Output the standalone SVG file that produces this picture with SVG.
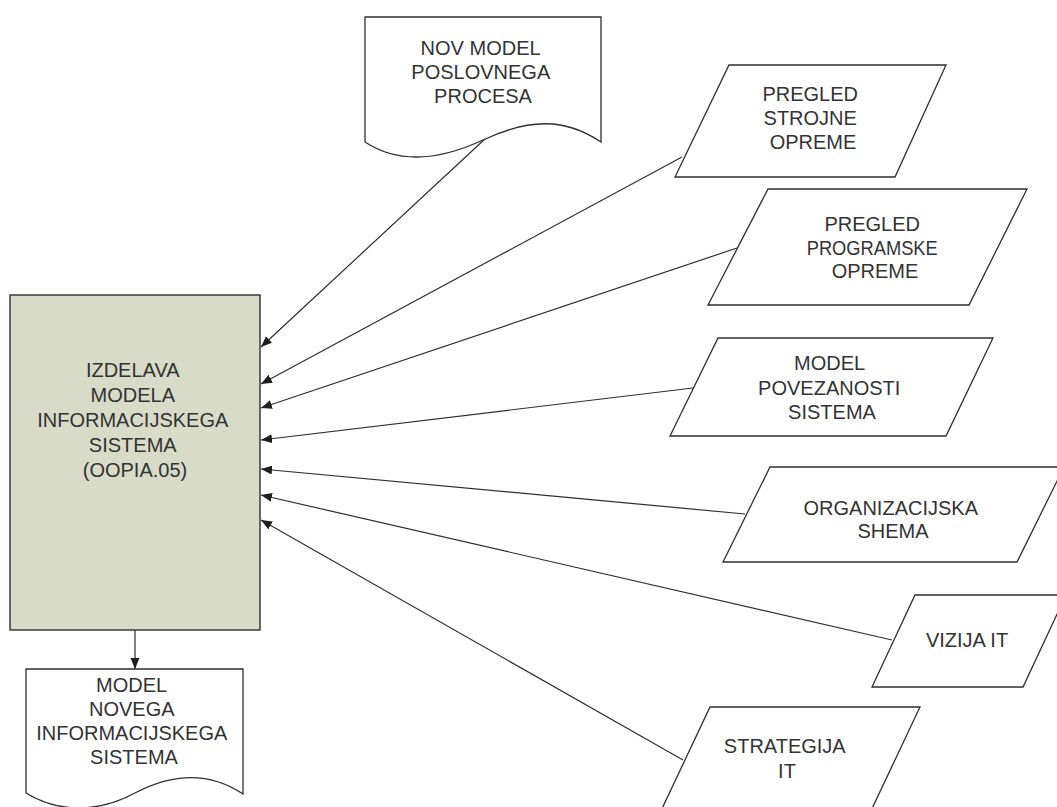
<svg xmlns="http://www.w3.org/2000/svg" width="1057" height="807" viewBox="0 0 1057 807">
  <style>
    .shape { fill: #ffffff; stroke: #2e2e2e; stroke-width: 1.3; }
    .process { fill: #d9dbc9; stroke: #3a3a3a; stroke-width: 1.5; }
    .label { font-family: "Liberation Sans", Arial, sans-serif; font-size: 20px; fill: #333333; text-anchor: middle; }
    .edge { fill: none; stroke: #2e2e2e; stroke-width: 1.2; marker-end: url(#arrow); }
  </style>
  <defs>
    <marker id="arrow" markerUnits="userSpaceOnUse" markerWidth="12" markerHeight="10" refX="11" refY="4.5" orient="auto">
      <path d="M0,0 L11,4.5 L0,9 Z" fill="#1e1e1e"/>
    </marker>
  </defs>

  <rect width="1057" height="807" fill="#ffffff"/>

  <!-- connectors -->
  <g id="connectors">
    <line class="edge" x1="486" y1="138" x2="261" y2="347"/>
    <line class="edge" x1="682" y1="157" x2="261" y2="384"/>
    <line class="edge" x1="737" y1="248" x2="261" y2="408"/>
    <line class="edge" x1="693" y1="388" x2="261" y2="440"/>
    <line class="edge" x1="745" y1="514" x2="261" y2="469"/>
    <line class="edge" x1="892" y1="640" x2="261" y2="495"/>
    <line class="edge" x1="683" y1="760" x2="261" y2="520"/>
    <line class="edge" x1="135" y1="630" x2="135" y2="669"/>
  </g>

  <!-- central process -->
  <g id="izdelava">
    <rect class="process" x="10" y="295" width="250" height="335"/>
    <text class="label">
      <tspan x="135" y="377">IZDELAVA</tspan>
      <tspan x="135" y="402">MODELA</tspan>
      <tspan x="135" y="427">INFORMACIJSKEGA</tspan>
      <tspan x="135" y="452">SISTEMA</tspan>
      <tspan x="135" y="477">(OOPIA.05)</tspan>
    </text>
  </g>

  <!-- document: new business process model -->
  <g id="nov-model">
    <path class="shape" d="M365,17 H601 V142 C565,118 530,118 483,140 C440,160 400,165 365,142 Z"/>
    <text class="label">
      <tspan x="483" y="55">NOV MODEL</tspan>
      <tspan x="483" y="79">POSLOVNEGA</tspan>
      <tspan x="483" y="103">PROCESA</tspan>
    </text>
  </g>

  <!-- data inputs -->
  <g id="strojna-oprema">
    <path class="shape" d="M729,65 H946 L895,177 H675 Z"/>
    <text class="label">
      <tspan x="813" y="101">PREGLED</tspan>
      <tspan x="813" y="125">STROJNE</tspan>
      <tspan x="813" y="149">OPREME</tspan>
    </text>
  </g>

  <g id="programska-oprema">
    <path class="shape" d="M768,189 H1027 L969,305 H708 Z"/>
    <text class="label">
      <tspan x="875" y="231">PREGLED</tspan>
      <tspan x="875" y="255" textLength="131" lengthAdjust="spacingAndGlyphs">PROGRAMSKE</tspan>
      <tspan x="875" y="278">OPREME</tspan>
    </text>
  </g>

  <g id="povezanost">
    <path class="shape" d="M718,338 H993 L946,436 H670 Z"/>
    <text class="label">
      <tspan x="832" y="370">MODEL</tspan>
      <tspan x="832" y="395">POVEZANOSTI</tspan>
      <tspan x="832" y="419">SISTEMA</tspan>
    </text>
  </g>

  <g id="organizacijska-shema">
    <path class="shape" d="M770,467 H1064 L1017,562 H723 Z"/>
    <text class="label">
      <tspan x="893" y="515">ORGANIZACIJSKA</tspan>
      <tspan x="893" y="538">SHEMA</tspan>
    </text>
  </g>

  <g id="vizija-it">
    <path class="shape" d="M915,595 H1066 L1023,687 H872 Z"/>
    <text class="label" x="967" y="647">VIZIJA IT</text>
  </g>

  <g id="strategija-it">
    <path class="shape" d="M710,707 H920 L869,815 H659 Z"/>
    <text class="label">
      <tspan x="787" y="753">STRATEGIJA</tspan>
      <tspan x="787" y="778">IT</tspan>
    </text>
  </g>

  <!-- document: output model -->
  <g id="model-novega">
    <path class="shape" d="M26,669 H243 V794 C210,772 175,772 135,793 C100,812 60,814 26,793 Z"/>
    <text class="label">
      <tspan x="134" y="692">MODEL</tspan>
      <tspan x="134" y="716">NOVEGA</tspan>
      <tspan x="134" y="740">INFORMACIJSKEGA</tspan>
      <tspan x="134" y="764">SISTEMA</tspan>
    </text>
  </g>
</svg>
